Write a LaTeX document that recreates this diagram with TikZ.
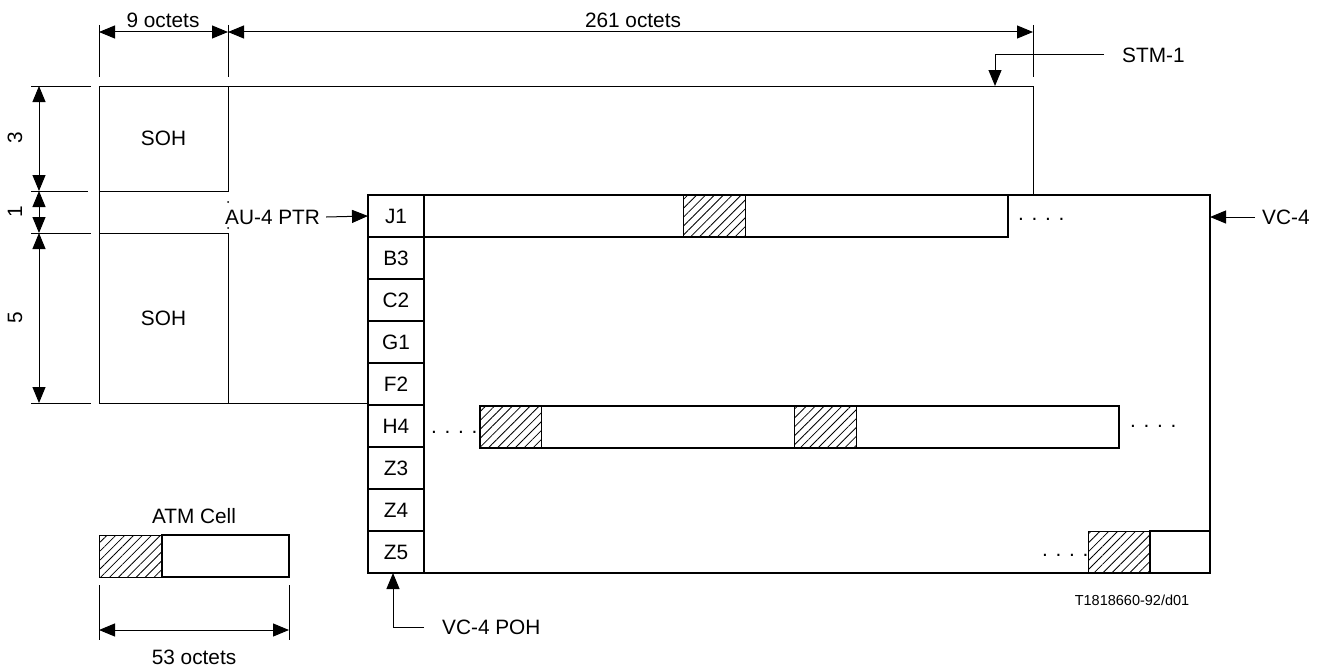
\documentclass[tikz,border=0pt]{standalone}
\usepackage{fontspec}
\setmainfont{Liberation Sans}
\usetikzlibrary{arrows.meta,patterns.meta}
\begin{document}
\begin{tikzpicture}[x=1pt,y=-1pt,
  lbl/.style={font=\fontsize{20.8}{24}\selectfont, inner sep=0pt},
  small/.style={font=\fontsize{14.5}{17}\selectfont, inner sep=0pt},
  box/.style n args={2}{minimum width=#1pt, minimum height=#2pt, inner sep=0pt, outer sep=0pt, anchor=north west},
  thinline/.style={line width=1pt},
  thickline/.style={line width=2pt},
  pohline/.style={line width=1.6pt},
  hatch/.style={draw, line width=1pt, pattern={Lines[angle=45,distance=6.3pt,line width=0.8pt]}},
  dim/.style={line width=1pt, {Triangle[length=16pt,width=13pt]}-{Triangle[length=16pt,width=13pt]}},
  lead/.style={line width=1pt, -{Triangle[length=16pt,width=13pt]}},
  tick/.style={line width=1pt}
]
\useasboundingbox (0,0) rectangle (1332,669);

% STM-1 frame and SOH boxes
\node[box={129}{105}, draw, thinline, lbl] (soh1) at (99,86) {SOH};
\node[box={129}{170}, draw, thinline, lbl] (soh2) at (99,233) {SOH};

% VC-4
\node[box={842}{378}, draw, line width=1.2pt] (vc4) at (368,195) {};
\coordinate (stmtr) at (1033,86);
\draw[thinline] (soh2.south west) -- (soh1.north west) -- (stmtr) -- (stmtr |- vc4.north);
\draw[thinline] (soh2.south east) -- (vc4.west |- soh2.south);

% AU-4 PTR dots
\fill (228,202) circle (1pt);
\fill (228,228) circle (1pt);

% J1 strip
\node[box={584}{42}] (j1s) at (424,195) {};
\node[box={62}{42}, hatch] (j1h) at (683,195) {};
\draw[thickline] (j1s.south west) -- (j1s.south east) -- (j1s.north east);
\node[lbl, anchor=base west] (dj1) at (1018,220) {. . . .};

% H4 strip
\node[box={61}{42}, hatch] (h4ha) at (480,406) {};
\node[box={62}{42}, hatch] (h4hb) at (794,406) {};
\node[box={639}{42}, draw, thickline] (h4s) at (480,406) {};
\node[lbl, anchor=base west] (dh4l) at (431,433) {. . . .};
\node[lbl, anchor=base west] (dh4r) at (1130,427) {. . . .};

% Z5 row
\node[box={62}{42}, hatch] (z5h) at (1088,531) {};
\node[box={60}{42}, draw, line width=1.2pt] (z5w) at (1150,531) {};
\node[lbl, anchor=base west] (dz5) at (1042,556) {. . . .};

% POH column
\foreach \t [count=\i from 0] in {J1,B3,C2,G1,F2,H4,Z3,Z4,Z5}
  \node[box={56}{42}, draw, pohline, lbl] (p\t) at (368,195+42*\i) {\t};

% top dimensions
\draw[tick] (99,25) -- (99,77);
\draw[tick] (228,25) -- (228,77);
\draw[tick] (1033,25) -- (1033,77);
\coordinate (a1) at (99,32);
\coordinate (a2) at (228,32);
\coordinate (a3) at (1033,32);
\draw[dim] (a1) -- (a2);
\draw[dim] (a2) -- (a3);
\node[lbl] (t9) at (163,20) {9 octets};
\node[lbl] (t261) at (633,20) {261 octets};

% left dimensions
\draw[tick] (31,86) -- (91,86);
\draw[tick] (31,191) -- (88,191);
\draw[tick] (31,233) -- (91,233);
\draw[tick] (31,403) -- (91,403);
\coordinate (l1) at (39,86);
\coordinate (l2) at (39,191);
\coordinate (l3) at (39,233);
\coordinate (l4) at (39,403);
\draw[dim] (l1) -- (l2);
\draw[dim] (l2) -- (l3);
\draw[dim] (l3) -- (l4);
\node[lbl, rotate=90] (n3) at (15,138) {3};
\node[lbl, rotate=90] (n1) at (15,212) {1};
\node[lbl, rotate=90] (n5) at (15,318) {5};

% labels with leaders
\node[lbl, anchor=west] (stm) at (1122,55) {STM-1};
\coordinate (stmtip) at (995,86);
\draw[lead] ([xshift=-18pt]stm.west) -| (stmtip);

\node[lbl, anchor=west] (vclbl) at (1262,217) {VC-4};
\draw[lead] ([xshift=-7pt]vclbl.west) -- (vc4.east |- vclbl.west);

\node[lbl, anchor=west] (au) at (225,217) {AU-4 PTR};
\draw[lead] ([xshift=6pt]au.east) -- (pJ1.west);

\node[lbl, anchor=west] (poh) at (442,627) {VC-4 POH};
\coordinate (pohtip) at (393,573);
\draw[lead] ([xshift=-18pt]poh.west) -| (pohtip);

% ATM cell
\node[box={63}{42}, hatch] (atmh) at (99,535) {};
\node[box={127}{42}, draw, line width=1.2pt] (atmw) at (162,535) {};
\node[lbl] (atml) at (194,516) {ATM Cell};
\draw[tick] (99,585) -- (99,640);
\draw[tick] (289,585) -- (289,640);
\coordinate (b1) at (99,630);
\coordinate (b2) at (289,630);
\draw[dim] (b1) -- (b2);
\node[lbl] (t53) at (194,657) {53 octets};

\node[small] (ref) at (1132,600) {T1818660-92/d01};
\end{tikzpicture}
\end{document}
